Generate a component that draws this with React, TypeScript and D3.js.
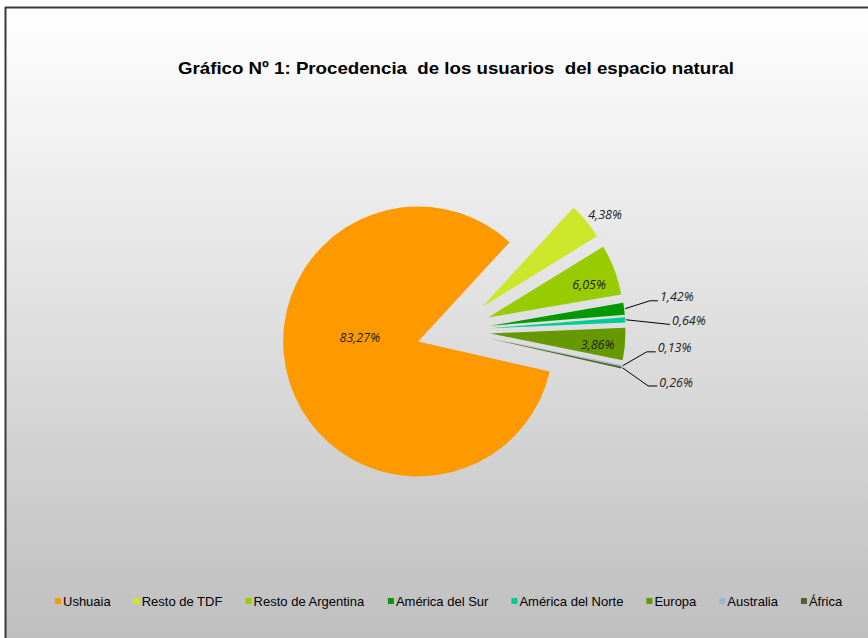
import React from "react";
import * as d3 from "d3";

const categories = ["Ushuaia", "Resto de TDF", "Resto de Argentina", "América del Sur", "América del Norte", "Europa", "Australia", "África"];
const values = [83.27, 4.38, 6.05, 1.42, 0.64, 3.86, 0.13, 0.26];
const labels = ["83,27%", "4,38%", "6,05%", "1,42%", "0,64%", "3,86%", "0,13%", "0,26%"];
const colors = ["#FF9900", "#CCE62A", "#99CC00", "#009900", "#00CC99", "#669900", "#9AB4DA", "#4F6228"];
const title = "Gráfico Nº 1: Procedencia  de los usuarios  del espacio natural";

// label layout (style): angle in degrees clockwise from 12 o'clock, distance from pie center
const labelLayout = [
  { mode: "inside", angle: 265.6, dist: 94 },
  { mode: "text", angle: 52.5, dist: 191 },
  { mode: "text", angle: 71.4, dist: 143 },
  { mode: "leader", angle: 81.4, dist: 198.7, elbow: 8 },
  { mode: "leader", angle: 88.4, dist: 216.6, elbow: 0 },
  { mode: "text", angle: 95.5, dist: 144.7 },
  { mode: "leader", angle: 96.3, dist: 194.4, elbow: 9 },
  { mode: "leader", angle: 105.9, dist: 202.5, elbow: 9 },
];

const W = 868, H = 638;
const cx = 453.5, cy = 330.5, R = 135, EXPLODE = 37;
const deg = Math.PI / 180;

function measure(text: string, font: string) {
  const c = document.createElement("canvas").getContext("2d")!;
  c.font = font;
  return c.measureText(text).width;
}

export default function App() {
  const data = categories.map((c, i) => ({ c, v: values[i], i }));
  const pie = d3.pie<any>().value((d: any) => d.v).sort(null)
    .startAngle(102.9 * deg).endAngle(102.9 * deg + 2 * Math.PI);
  const arcs = pie(data);
  const arc = d3.arc<any>().innerRadius(0).outerRadius(R);
  const pol = (a: number, r: number) => [Math.sin(a) * r, -Math.cos(a) * r];

  const legendFont = "13px 'Liberation Sans', Arial, sans-serif";
  let lx = 55;
  const legendItems = categories.map((c, i) => {
    const x = lx;
    const w = measure(c, legendFont);
    lx += 6 + 2 + w + 23;
    return { c, x, i };
  });

  return (
    <div style={{ position: "absolute", left: 0, top: 0 }}>
      <svg width={W} height={H} style={{ display: "block" }}>
        <defs>
          <linearGradient id="bg" x1="0" y1="0" x2="0" y2="1">
            <stop offset="0" stopColor="#ffffff" />
            <stop offset="1" stopColor="#bdbdbd" />
          </linearGradient>
        </defs>
        <rect x={5.5} y={7.5} width={W + 10} height={H + 10} fill="url(#bg)" stroke="#3a3a3a" strokeWidth={2} />
        <text x={178} y={74} textLength={556} lengthAdjust="spacingAndGlyphs" style={{ whiteSpace: "pre" }} fontFamily="'Liberation Sans', Arial, sans-serif" fontWeight="bold" fontSize={17} fill="#000">{title}</text>
        <g transform={`translate(${cx},${cy})`}>
          {arcs.map((a, i) => {
            const mid = (a.startAngle + a.endAngle) / 2;
            const [ox, oy] = pol(mid, EXPLODE);
            return <path key={i} d={arc(a) as string} transform={`translate(${ox},${oy})`} fill={colors[i]} />;
          })}
          {arcs.map((a, i) => {
            const L = labelLayout[i];
            const mid = (a.startAngle + a.endAngle) / 2;
            const [lx2, ly2] = pol(L.angle * deg, L.dist);
            const font = { fontFamily: "'Open Sans', sans-serif", fontStyle: "italic", fontSize: 12.5, fill: "#222" } as any;
            if (L.mode === "leader") {
              const [sx, sy] = pol(mid, R + EXPLODE + 1);
              const ex = lx2 + (L.elbow || 0);
              return (
                <g key={i}>
                  <polyline points={`${sx},${sy} ${lx2},${ly2} ${ex},${ly2}`} fill="none" stroke="#000" strokeWidth={1} />
                  <text x={ex + 2} y={ly2} dy="0.05em" {...font}>{labels[i]}</text>
                </g>
              );
            }
            return <text key={i} x={lx2} y={ly2} dy="0.35em" textAnchor="middle" {...font}>{labels[i]}</text>;
          })}
        </g>
        <g>
          {legendItems.map(({ c, x, i }) => (
            <g key={i}>
              <rect x={x} y={598} width={6} height={6} fill={colors[i]} />
              <text x={x + 8} y={601} dy="0.35em" fontFamily="'Liberation Sans', Arial, sans-serif" fontSize={13} fill="#000">{c}</text>
            </g>
          ))}
        </g>
      </svg>
    </div>
  );
}
